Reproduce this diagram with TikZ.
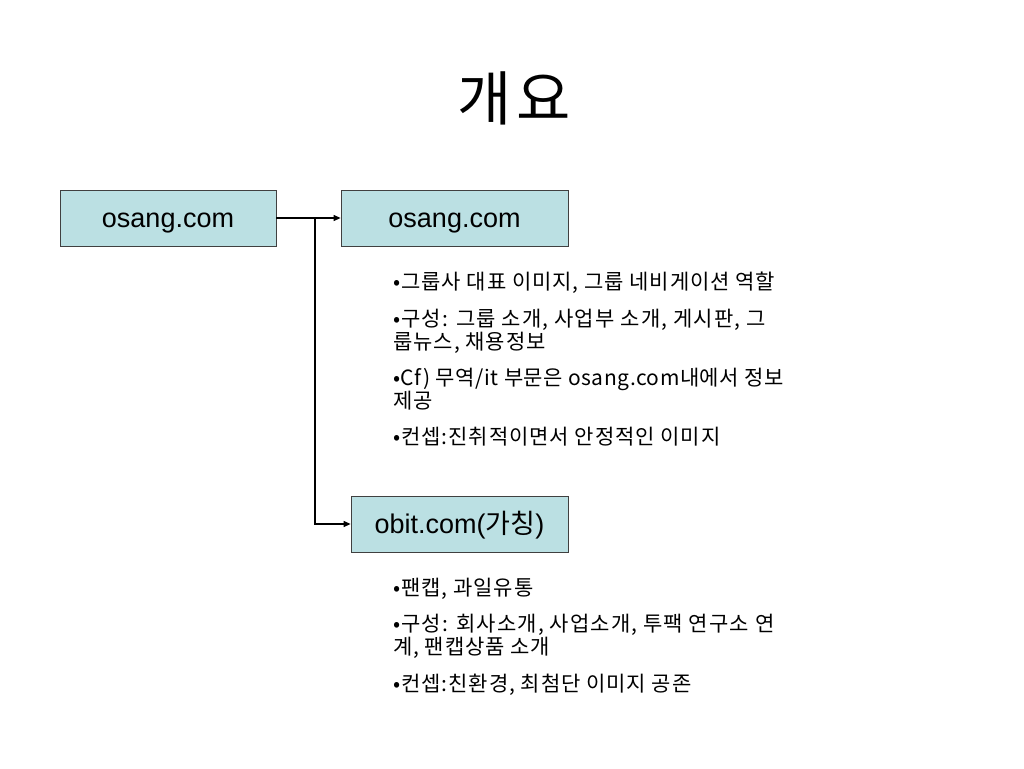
\documentclass[tikz,border=0pt]{standalone}
\usepackage{fontspec}
\setmainfont{Liberation Sans}
\newfontfamily\ko{Noto Sans CJK KR}
\newfontfamily\kob[LetterSpace=4.5]{Noto Sans CJK KR}
\newfontfamily\koc[LetterSpace=2.5]{Noto Sans CJK KR}
\newfontfamily\kod[LetterSpace=5.5]{Noto Sans CJK KR}
\newfontfamily\kot[LetterSpace=8]{Noto Sans CJK KR}
\usetikzlibrary{arrows.meta}
\definecolor{boxfill}{RGB}{187,224,227}
\begin{document}
\begin{tikzpicture}[x=1pt,y=-1pt,
 box/.style={draw=black!75, line width=0.8pt, fill=boxfill, minimum height=56pt, inner sep=0pt, text height=20pt, text depth=2pt, font=\fontsize{27}{30}\selectfont},
 conn/.style={line width=1.2pt, -{Triangle[length=7pt,width=6pt]}},
 bul/.style={anchor=base west, inner sep=0pt, font=\kob\fontsize{21}{24}\selectfont}]
\useasboundingbox[fill=white] (0,0) rectangle (1024,768);
\node[font=\kot\fontsize{59}{62}\selectfont] (title) at (514,98) {개요};
\node[box, minimum width=216pt] (a) at (168,218) {osang.com};
\node[box, minimum width=227pt] (b) at (454.5,218) {osang.com};
\node[box, minimum width=217pt] (c) at (459.5,524) {obit.com({\ko 가칭})};
\coordinate (j) at (315,218);
\draw[conn] (a.east) -- (b.west);
\draw[conn] (j) |- (c.west);
% group 1
\node[bul] (p1) at (393,289) {•그룹사 대표 이미지, 그룹 네비게이션 역할};
\node[bul, font=\kod\fontsize{21}{24}\selectfont] (p2) at (393,326) {•구성: 그룹 소개, 사업부 소개, 게시판, 그};
\node[bul] (p2b) at (393,349) {룹뉴스, 채용정보};
\node[bul, font=\koc\fontsize{21}{24}\selectfont] (p3) at (393,385) {•Cf) 무역/it 부문은 osang.com내에서 정보};
\node[bul] (p3b) at (393,408) {제공};
\node[bul] (p4) at (393,444) {•컨셉:진취적이면서 안정적인 이미지};
% group 2
\node[bul] (q1) at (393,595) {•팬캡, 과일유통};
\node[bul, font=\kod\fontsize{21}{24}\selectfont] (q2) at (393,631) {•구성: 회사소개, 사업소개, 투팩 연구소 연};
\node[bul] (q2b) at (393,654) {계, 팬캡상품 소개};
\node[bul] (q3) at (393,691) {•컨셉:친환경, 최첨단 이미지 공존};
\end{tikzpicture}
\end{document}
